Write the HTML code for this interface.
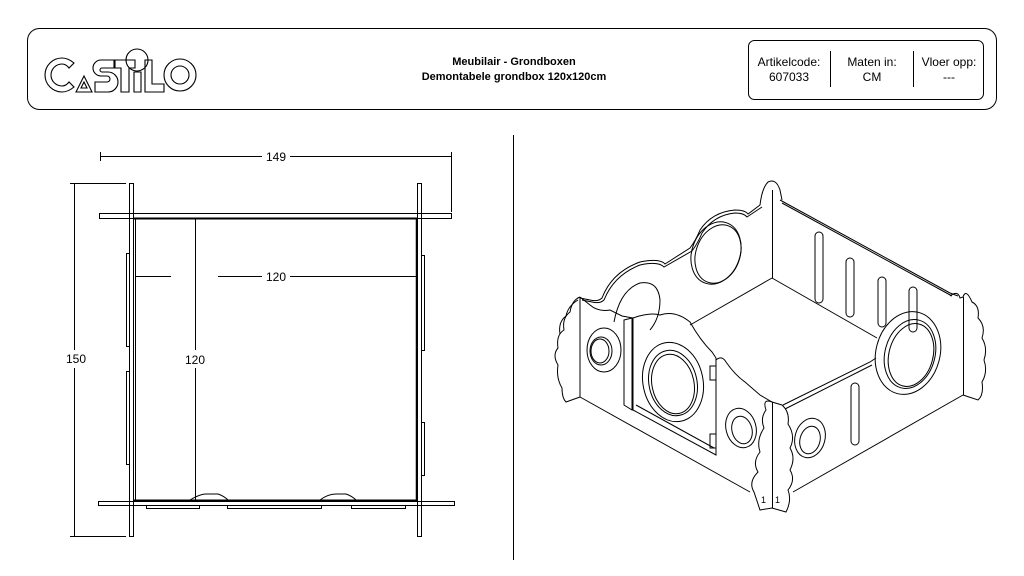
<!DOCTYPE html>
<html><head><meta charset="utf-8"><style>
html,body{margin:0;padding:0;background:#fff;}
body{width:1024px;height:576px;overflow:hidden;position:relative;font-family:"Liberation Sans",Arial,sans-serif;}
</style></head><body>
<svg width="1024" height="576" viewBox="0 0 1024 576" xmlns="http://www.w3.org/2000/svg" style="position:absolute;left:0;top:0">
<g fill="none" stroke="#000" stroke-width="1">
<!-- header -->
<rect x="27.5" y="28.5" width="969" height="81" rx="12"/>
<rect x="748.5" y="40.5" width="235" height="59" rx="6"/>
<line x1="830.5" y1="51" x2="830.5" y2="87"/>
<line x1="913.5" y1="51" x2="913.5" y2="87"/>
<!-- logo -->
<g stroke-width="1.1">
<path d="M74 63 Q68 58 62 58 A17 17 0 0 0 62 92 Q68 92 74 87 L69 82 Q66 86 62 86 A11 11 0 0 1 62 64 Q66 64 69 68 Z"/>
<path d="M76 92 L84 76 L92 92 Z M81 88 L84 82 L87 88 Z"/>
<path d="M114 60 L101 60 A8 8 0 0 0 101 76 L107 76 A3 3 0 0 1 107 82 L95 82 L95 92 L108 92 A10 10 0 0 0 108 72 L102 72 A2 2 0 0 1 102 68 L114 68 Z"/>
<path d="M115 60 L135 60 L135 68 L129 68 L129 92 L121 92 L121 68 L115 68 Z"/>
<path d="M134 92 L141 92 L141 72 L134 72 Z"/>
<circle cx="137" cy="60" r="11"/>
<path d="M145 60 L152 60 L152 84 L164 84 L164 92 L145 92 Z"/>
<circle cx="180" cy="75" r="16"/><circle cx="180" cy="75" r="9"/>
</g>
</g>
<g font-size="11" font-weight="bold" text-anchor="middle" fill="#000">
<text x="514" y="65">Meubilair - Grondboxen</text>
<text x="514" y="80">Demontabele grondbox 120x120cm</text>
</g>
<g font-size="12" text-anchor="middle" fill="#000">
<text x="789" y="66">Artikelcode:</text><text x="789" y="81">607033</text>
<text x="872" y="66">Maten in:</text><text x="872" y="81">CM</text>
<text x="949" y="66">Vloer opp:</text><text x="949" y="81">---</text>
</g>
<!-- divider -->
<line x1="513.5" y1="135" x2="513.5" y2="560" stroke="#000"/>
<!-- plan view -->
<g fill="none" stroke="#000" stroke-width="1">
<line x1="100" y1="156.5" x2="262" y2="156.5"/><line x1="290" y1="156.5" x2="451" y2="156.5"/>
<line x1="100.5" y1="152" x2="100.5" y2="161"/><line x1="451.5" y1="152" x2="451.5" y2="212"/>
<line x1="74.5" y1="183" x2="74.5" y2="350"/><line x1="74.5" y1="368" x2="74.5" y2="536"/>
<line x1="70" y1="183.5" x2="126" y2="183.5"/><line x1="70" y1="536.5" x2="126" y2="536.5"/>
<line x1="136" y1="276.5" x2="171" y2="276.5"/><line x1="218" y1="276.5" x2="262" y2="276.5"/><line x1="290" y1="276.5" x2="416" y2="276.5"/>
<line x1="195.5" y1="218" x2="195.5" y2="350"/><line x1="195.5" y1="368" x2="195.5" y2="500"/>
<!-- posts -->
<rect x="129.5" y="183.5" width="4" height="353"/>
<rect x="417.5" y="183.5" width="4" height="353"/>
<!-- boards -->
<rect x="99.5" y="213.5" width="352" height="5"/>
<line x1="134" y1="218.5" x2="418" y2="218.5" stroke-width="2"/>
<rect x="98.5" y="501.5" width="356" height="4"/>
<line x1="134" y1="500.5" x2="418" y2="500.5" stroke-width="2"/>
<line x1="135.5" y1="218" x2="135.5" y2="501"/>
<line x1="416.5" y1="218" x2="416.5" y2="501" stroke-width="1.5"/>
<rect x="126.5" y="253.5" width="3" height="93"/><rect x="126.5" y="371.5" width="3" height="93"/>
<rect x="421.5" y="255.5" width="3" height="95"/><rect x="421.5" y="422.5" width="3" height="53"/>
<rect x="146.5" y="505.5" width="53" height="3"/><rect x="227.5" y="505.5" width="94" height="3"/><rect x="351.5" y="505.5" width="54" height="3"/>
<path d="M190 500 Q200 494 206 494 L218 494 Q224 496 228 500"/>
<path d="M320 500 Q328 494 336 494 L346 494 Q352 496 356 500"/>
</g>
<g font-size="12" fill="#000" text-anchor="middle">
<text x="276" y="161">149</text>
<text x="76" y="363">150</text>
<text x="276" y="281">120</text>
<text x="195" y="364">120</text>
</g>
<!-- isometric -->
<g fill="none" stroke="#000" stroke-width="1">
<path d="M580 298 L590 300 Q598 302 602 298 Q612 272 640 262 Q660 258 665 264 L690 248 Q696 240 700 230 Q712 212 735 210 Q745 210 748 214 L760 205 Q762 188 768 182 Q776 178 780 190 L782 200"/>
<path d="M582 300 L592 302 Q600 304 604 300 Q614 275 640 265 Q658 261 664 267 L692 251 Q698 243 702 233 Q714 215 735 213 Q744 213 747 217 L762 207"/>
<line x1="772.5" y1="190" x2="772.5" y2="278"/>
<line x1="772" y1="278" x2="690" y2="325"/>
<line x1="772" y1="278" x2="877" y2="338"/>
<path d="M780 200 L950 293 L958 296"/><path d="M782 203 L952 296"/>
<ellipse cx="716" cy="253" rx="24" ry="32" transform="rotate(20 716 253)"/>
<ellipse cx="718" cy="254" rx="22" ry="30" transform="rotate(20 718 254)"/>
<path d="M614 322 Q620 290 640 283 Q658 280 660 300 Q660 318 650 330"/>
<rect x="815" y="232" width="8" height="71" rx="4"/><rect x="846" y="258" width="8" height="59" rx="4"/>
<rect x="878" y="277" width="8" height="50" rx="4"/><rect x="909" y="287" width="8" height="45" rx="4"/>
<rect x="851" y="383" width="8" height="62" rx="4"/>
<path d="M580 297 L580 397"/>
<path d="M580 297 Q572 300 570 312 Q562 318 564 330 Q556 335 558 348 Q552 355 558 365 Q556 378 562 388 Q562 398 566 402 L580 397"/>
<path d="M578 300 Q568 306 566 316 Q558 322 560 334"/>
<path d="M580 297 L590 305 Q598 312 610 310 L622 316 L633 318"/>
<line x1="580" y1="397" x2="750" y2="492"/>
<ellipse cx="604" cy="350" rx="17" ry="22"/><ellipse cx="601" cy="351" rx="11" ry="14"/><ellipse cx="600" cy="351" rx="9" ry="12"/>
<path d="M624 320 L632 318 L632 410 L624 405 Z"/>
<path d="M633 318 Q650 312 660 315 Q675 310 690 322 Q700 340 712 352 L716 358 L716 455 L633 410 Z"/>
<path d="M636 405 L714 448"/>
<ellipse cx="673" cy="382" rx="30" ry="40" transform="rotate(-12 673 382)"/>
<ellipse cx="673" cy="383" rx="24" ry="33" transform="rotate(-12 673 383)"/>
<ellipse cx="673" cy="384" rx="21" ry="30" transform="rotate(-12 673 384)"/>
<rect x="710" y="366" width="6" height="14"/><rect x="710" y="434" width="6" height="14"/>
<path d="M716 360 Q722 355 726 362 Q735 375 745 382 L760 395 L772 402"/>
<ellipse cx="741" cy="428" rx="15" ry="20" transform="rotate(-15 741 428)"/>
<ellipse cx="742" cy="430" rx="10" ry="14" transform="rotate(-15 742 430)"/>
<line x1="772.5" y1="402" x2="772.5" y2="508"/>
<path d="M772 402 Q762 398 766 410 Q760 418 764 428 Q756 440 760 452 Q752 462 758 472 Q748 482 754 492 L760 510 L772 508 L786 512 Q792 500 788 490 Q796 480 790 470 Q796 458 790 448 Q796 436 788 424 Q790 412 782 405 Z"/>
<line x1="793" y1="492" x2="963" y2="395"/>
<path d="M783 405 L870 362 L876 358"/><path d="M785 409 L872 365"/>
<ellipse cx="810" cy="438" rx="15" ry="20" transform="rotate(15 810 438)"/>
<ellipse cx="810" cy="440" rx="10" ry="14" transform="rotate(15 810 440)"/>
<ellipse cx="908" cy="353" rx="32" ry="42" transform="rotate(15 908 353)"/>
<ellipse cx="910" cy="354" rx="25" ry="35" transform="rotate(15 910 354)"/>
<ellipse cx="911" cy="355" rx="22" ry="32" transform="rotate(15 911 355)"/>
<line x1="963.5" y1="297" x2="963.5" y2="395"/>
<path d="M950 296 Q958 290 960 298 L963 297 Q966 288 972 302 Q980 306 978 318 Q986 326 982 338 Q988 348 984 360 Q988 372 982 382 Q984 395 978 400 L963 395"/>
</g>
<g font-size="9" fill="#000"><text x="761" y="503">1</text><text x="775" y="503">1</text></g>
</svg>
</body></html>
